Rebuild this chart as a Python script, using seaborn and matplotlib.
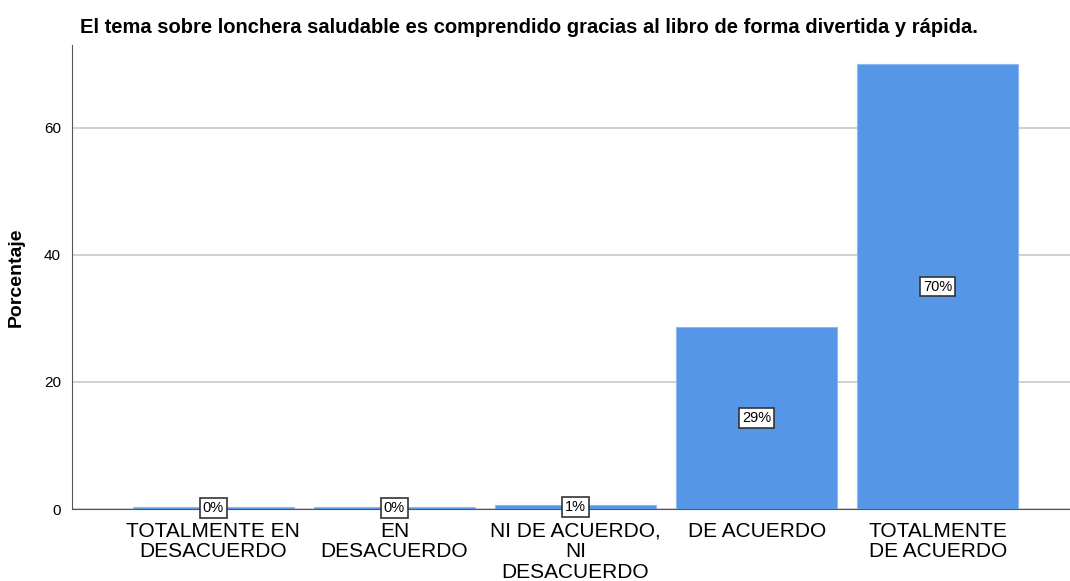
import pandas as pd
import matplotlib.pyplot as plt
import seaborn as sns

# --- data ----------------------------------------------------
categories = ["TOTALMENTE EN\nDESACUERDO", "EN\nDESACUERDO",
              "NI DE ACUERDO,\nNI\nDESACUERDO", "DE ACUERDO",
              "TOTALMENTE\nDE ACUERDO"]
percent = [0.3, 0.3, 0.7, 28.7, 70.0]
labels = ["0%", "0%", "1%", "29%", "70%"]

data = pd.DataFrame({"cat": categories, "pct": percent})

# --- plot ----------------------------------------------------
sns.set_style("white")
plt.rcParams["font.family"] = ["Liberation Sans", "DejaVu Sans"]
plt.rcParams["text.color"] = "black"

fig = plt.figure(figsize=(10.7, 5.81), dpi=100)
ax = fig.add_axes([0.0673, 0.1239, 0.9327, 0.7986])

sns.barplot(x="cat", y="pct", data=data, color="#5596e6",
            width=0.89, edgecolor="#8fb9ee", linewidth=0.8,
            saturation=1, ax=ax, zorder=3)

ax.set_xlim(-0.78, 4.73)
ax.set_ylim(0, 73)
ax.set_yticks([0, 20, 40, 60])
ax.yaxis.grid(True, color="#c8c8c8", linewidth=1.2, zorder=0)
ax.set_axisbelow(True)

for s in ["top", "right"]:
    ax.spines[s].set_visible(False)
ax.spines["left"].set_color("#555555")
ax.spines["bottom"].set_color("#555555")

ax.tick_params(axis="x", length=0, labelsize=15, pad=9, labelcolor="black")
ax.tick_params(axis="y", length=0, labelsize=11, pad=8, labelcolor="black")
for t in ax.get_xticklabels():
    t.set_linespacing(1.12)

ax.set_xlabel("")
ax.set_ylabel("Porcentaje", fontsize=14, fontweight="bold", labelpad=14,
              color="black")

# value labels in boxes
for i, (v, lab) in enumerate(zip(percent, labels)):
    ax.text(i, v / 2, lab, ha="center", va="center", fontsize=10.5,
            color="black", zorder=5,
            bbox=dict(boxstyle="square,pad=0.2", facecolor="white",
                      edgecolor="#333333", linewidth=1.2))

fig.text(0.075, 0.952, "El tema sobre lonchera saludable es comprendido "
         "gracias al libro de forma divertida y rápida.",
         fontsize=14.5, fontweight="bold", ha="left", va="center",
         color="black")

fig.savefig("out.png", dpi=100)
